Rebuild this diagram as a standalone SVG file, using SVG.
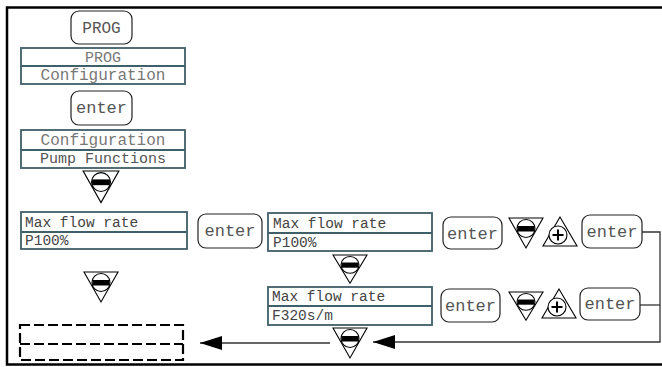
<svg xmlns="http://www.w3.org/2000/svg" width="662" height="367" viewBox="0 0 662 367">
<style>
.frame{fill:none;stroke:#000;stroke-width:2.5}
.box{fill:#fff;stroke:#3f5f69;stroke-width:1.8}
.btn{fill:#fff;stroke:#222;stroke-width:1.2}
.bt{font-family:"Liberation Mono",monospace;font-size:17px;fill:#555;text-anchor:middle}
.lt{font-family:"Liberation Mono",monospace;font-size:14.5px;fill:#444}
.ct{font-family:"Liberation Mono",monospace;font-size:15px;fill:#777;text-anchor:middle}
.tri{fill:#fff;stroke:#000;stroke-width:1.1}
.dash{fill:none;stroke:#000;stroke-width:2.2;stroke-dasharray:10 4}
.conn{fill:none;stroke:#333;stroke-width:1.3}
</style>
<defs>
<g id="minus">
<polygon class="tri" points="-17,0 17,0 0,30"/>
<circle cx="0" cy="10.5" r="9" fill="#fff" stroke="#000" stroke-width="1.1"/>
<rect x="-8.5" y="8" width="17" height="5.5" fill="#000"/>
</g>
<g id="plus">
<polygon class="tri" points="0,0 -17,29 17,29"/>
<circle cx="-2" cy="18" r="9" fill="#fff" stroke="#000" stroke-width="1.1"/>
<path d="M-7.5,18 H3.5 M-2,12.5 V23.5" stroke="#000" stroke-width="2"/>
</g>
<marker id="ah" markerWidth="22" markerHeight="14" refX="22" refY="7" orient="auto" markerUnits="userSpaceOnUse">
<path d="M0,0 L22,7 L0,14 Z" fill="#000"/>
</marker>
</defs>
<rect class="frame" x="7" y="7.5" width="700" height="357"/>

<g id="connectors">
<path class="conn" d="M330,343 H200" marker-end="url(#ah)"/>
<path class="conn" d="M642,232 H660 V342 H373" marker-end="url(#ah)"/>
<path class="conn" d="M640,305 H660"/>
</g>

<g id="prog-btn"><rect class="btn" x="71" y="11" width="61" height="33" rx="8"/><text class="bt" x="101.5" y="33" style="font-size:16px">PROG</text></g>
<g id="box-prog"><rect class="box" x="21" y="48" width="164" height="36"/><line class="box" x1="21" y1="66" x2="185" y2="66"/><text class="ct" x="103" y="62">PROG</text><text class="ct" x="103" y="80" style="font-size:16px">Configuration</text></g>
<g id="enter1"><rect class="btn" x="71" y="91" width="61" height="34" rx="8"/><text class="bt" x="101.5" y="113">enter</text></g>
<g id="box-config"><rect class="box" x="21" y="130" width="164" height="38"/><line class="box" x1="21" y1="150" x2="185" y2="150"/><text class="ct" x="103" y="145" style="font-size:16px">Configuration</text><text class="ct" x="103" y="163" style="fill:#555">Pump Functions</text></g>
<g id="minus1"><use href="#minus" transform="translate(101,171) scale(1.05)"/></g>
<g id="box-max1"><rect class="box" x="21" y="212" width="166" height="37"/><line class="box" x1="21" y1="232" x2="187" y2="232"/><text class="lt" x="25" y="227">Max flow rate</text><text class="lt" x="25" y="245">P100%</text></g>
<g id="minus2"><use href="#minus" transform="translate(101,272)"/></g>
<g id="dashed-box"><rect class="dash" x="20" y="325" width="163" height="35"/><line class="dash" x1="20" y1="344" x2="183" y2="344"/></g>

<g id="enter2"><rect class="btn" x="198" y="214" width="64" height="34" rx="8"/><text class="bt" x="230" y="236">enter</text></g>
<g id="box-max2"><rect class="box" x="268" y="213" width="164" height="38"/><line class="box" x1="268" y1="233" x2="432" y2="233"/><text class="lt" x="273" y="228">Max flow rate</text><text class="lt" x="273" y="247">P100%</text></g>
<g id="minus3"><use href="#minus" transform="translate(350,255) scale(1,0.94)"/></g>
<g id="box-max3"><rect class="box" x="268" y="287" width="164" height="38"/><line class="box" x1="268" y1="306" x2="432" y2="306"/><text class="lt" x="272" y="301">Max flow rate</text><text class="lt" x="272" y="320">F320s/m</text></g>
<g id="minus4"><use href="#minus" transform="translate(350,328)"/></g>

<g id="enter3"><rect class="btn" x="443" y="217" width="59" height="32" rx="8"/><text class="bt" x="472.5" y="239">enter</text></g>
<g id="minus5"><use href="#minus" transform="translate(526,218)"/></g>
<g id="plus1"><use href="#plus" transform="translate(560,217)"/></g>
<g id="enter4"><rect class="btn" x="582" y="215" width="60" height="33" rx="8"/><text class="bt" x="612" y="237">enter</text></g>

<g id="enter5"><rect class="btn" x="441" y="289" width="59" height="33" rx="8"/><text class="bt" x="470.5" y="311">enter</text></g>
<g id="minus6"><use href="#minus" transform="translate(526,292) scale(1,0.94)"/></g>
<g id="plus2"><use href="#plus" transform="translate(559,289)"/></g>
<g id="enter6"><rect class="btn" x="580" y="288" width="60" height="32" rx="8"/><text class="bt" x="610" y="309">enter</text></g>
</svg>
